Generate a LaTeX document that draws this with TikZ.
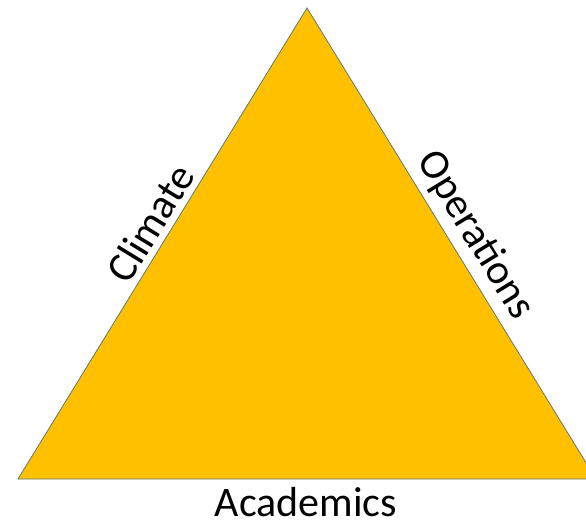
\documentclass[tikz,border=0pt]{standalone}
\usepackage{fontspec}
\setmainfont{Carlito}
\definecolor{gold}{RGB}{255,192,0}
\definecolor{rim}{RGB}{96,122,112}
\tikzset{sidelabel/.style={font=\fontsize{42}{50}\selectfont}}

\begin{document}
\begin{tikzpicture}[x=1pt,y=-1pt]
		\useasboundingbox (0,0) rectangle (586,524);
		%corners
		\coordinate (apex) at (307,8);
		\coordinate (left) at (18,479);
		\coordinate (right) at (596,479);
		%triangle
		\filldraw[fill=gold, draw=rim, line width=0.8pt] (apex) -- (right) -- (left) -- cycle;
		%labels
		\path (left) -- (apex) node[pos=0.52, sloped, above=3pt, sidelabel] (climate) {Climate};
		\path (apex) -- (right) node[pos=0.51, sloped, above=3pt, sidelabel] (operations) {Operations};
		\node[below=3pt, inner sep=1pt, sidelabel] (academics) at (306,483) {Academics};
	\end{tikzpicture}
\end{document}
